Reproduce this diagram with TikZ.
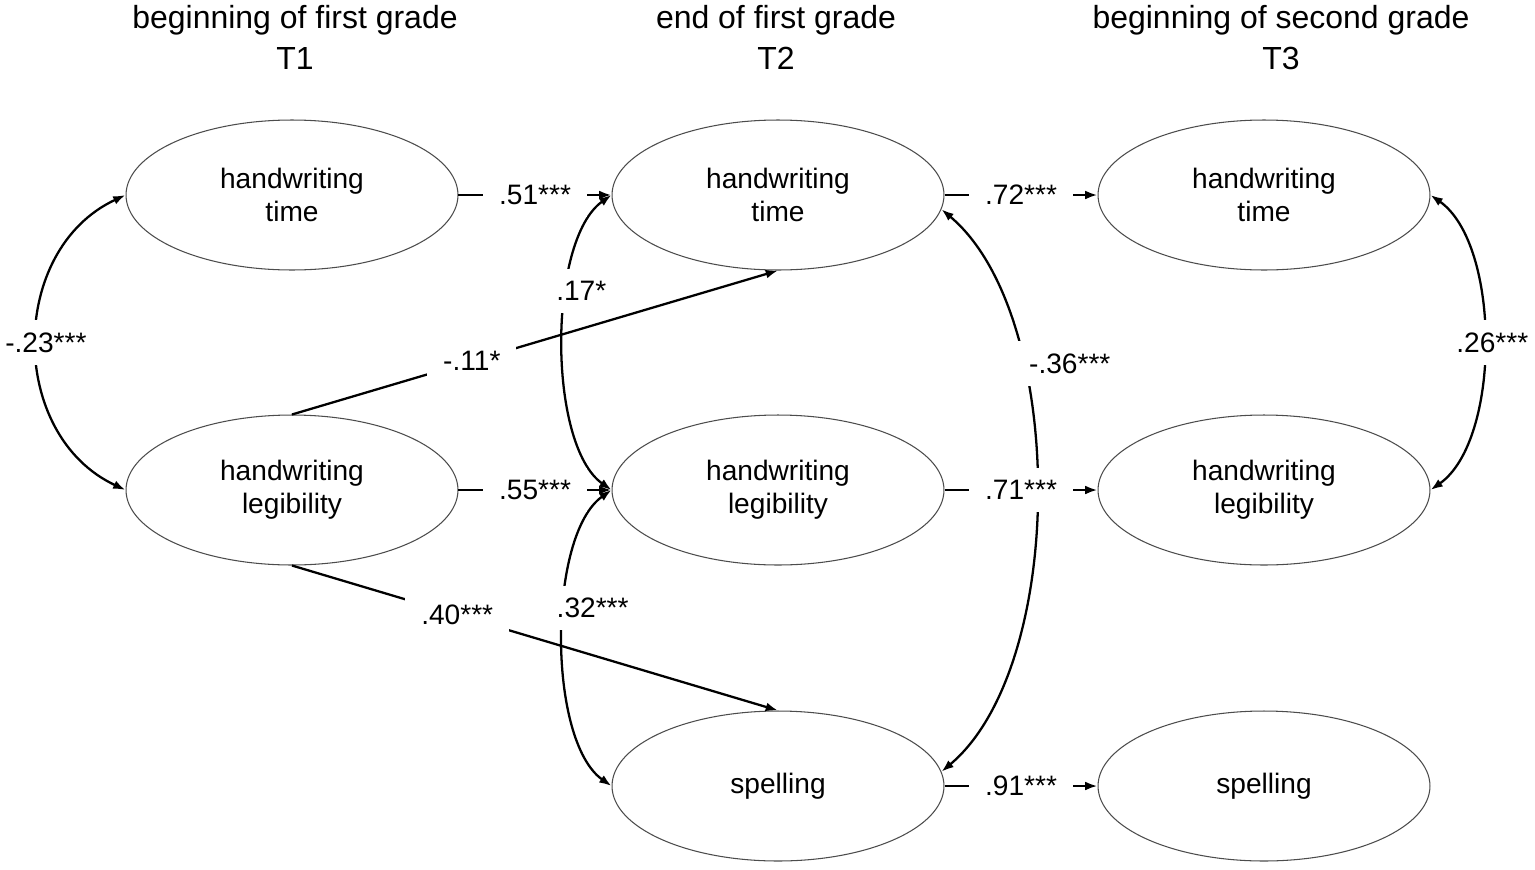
\documentclass[tikz,border=0pt]{standalone}
\usepackage{fontspec}
\setmainfont{Liberation Sans}
\usetikzlibrary{shapes.geometric,arrows.meta}

\begin{document}
\begin{tikzpicture}[x = 0.02cm, y = 0.02cm,
        font = \fontsize{16}{19}\selectfont,
        var/.style = {ellipse, draw = black!70, line width = 0.6pt, minimum width = 6.64cm, minimum height = 3cm, inner sep = 0pt, align = center},
        link/.style = {line width = 1.3pt, -{Latex[length = 7pt, width = 5pt]}},
        corr/.style = {line width = 1.3pt, {Latex[length = 7pt, width = 5pt]}-{Latex[length = 7pt, width = 5pt]}},
        lbl/.style = {fill = white, inner xsep = 9pt, inner ysep = 7pt},
        head/.style = {font = \fontsize{18.2}{22}\selectfont, anchor = base}]
        \useasboundingbox (0,0) rectangle (1535,-869);
        
        \node [head] (h1) at (295,-28) {beginning of first grade};
        \node [head] (h1t) at (295,-69) {T1};
        \node [head] (h2) at (776,-28) {end of first grade};
        \node [head] (h2t) at (776,-69) {T2};
        \node [head] (h3) at (1281,-28) {beginning of second grade};
        \node [head] (h3t) at (1281,-69) {T3};
        
        \node [var] (t1time) at (292,-195) {handwriting\\time};
        \node [var] (t1leg) at (292,-490) {handwriting\\legibility};
        
        \node [var] (t2time) at (778,-195) {handwriting\\time};
        \node [var] (t2leg) at (778,-490) {handwriting\\legibility};
        \node [var] (t2spell) at (778,-786) {spelling};
        
        \node [var] (t3time) at (1264,-195) {handwriting\\time};
        \node [var] (t3leg) at (1264,-490) {handwriting\\legibility};
        \node [var] (t3spell) at (1264,-786) {spelling};
        
        \draw [corr] (t1time.west) to [bend right = 65, looseness = 1.13] node [lbl, xshift = 5pt] {-.23***} (t1leg.west);
        \draw [corr] (t3time.east) to [bend left = 55, looseness = 0.75] node [lbl, xshift = 5pt] {.26***} (t3leg.east);
        \draw [corr] (t2time.west) to [bend right = 55, looseness = 0.68] node [lbl, pos = 0.36, xshift = 8pt] {.17*} (t2leg.west);
        \draw [corr] (t2leg.west) to [bend right = 55, looseness = 0.68] node [lbl, pos = 0.42, xshift = 16pt] {.32***} (t2spell.west);
        \draw [corr] (t2time.-5) to [bend left = 50, looseness = 0.75] node [lbl, pos = 0.31, xshift = 27pt] {-.36***} (t2spell.5);
        
        \draw [link] (t1time) -- node [lbl] {.51***} (t2time);
        \draw [link] (t1leg) -- node [lbl] {.55***} (t2leg);
        \draw [link] (t2time) -- node [lbl] {.72***} (t3time);
        \draw [link] (t2leg) -- node [lbl] {.71***} (t3leg);
        \draw [link] (t2spell) -- node [lbl] {.91***} (t3spell);
        
        \draw [link] (t1leg.north) -- node [lbl, pos = 0.37] {-.11*} (t2time.south);
        \draw [link] (t1leg.south) -- node [lbl, pos = 0.34] {.40***} (t2spell.north);
    \end{tikzpicture}
\end{document}
